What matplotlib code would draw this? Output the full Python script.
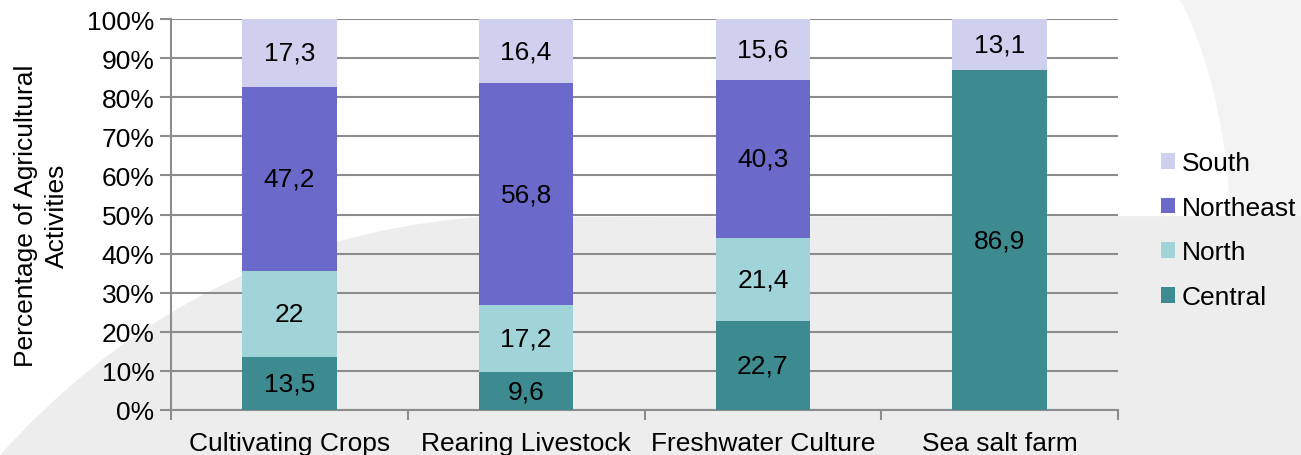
import matplotlib
matplotlib.use("Agg")
import matplotlib.pyplot as plt
from matplotlib.path import Path
from matplotlib.patches import PathPatch
import numpy as np

categories = ["Cultivating Crops", "Rearing Livestock", "Freshwater Culture", "Sea salt farm"]
regions = ["Central", "North", "Northeast", "South"]
central = [13.5, 9.6, 22.7, 86.9]
north = [22.0, 17.2, 21.4, 0.0]
northeast = [47.2, 56.8, 40.3, 0.0]
south = [17.3, 16.4, 15.6, 13.1]
colors = ["#3d8b90", "#a1d4d8", "#6b6acb", "#cfcfee"]
yticks = [0, 10, 20, 30, 40, 50, 60, 70, 80, 90, 100]

plt.rcParams["font.family"] = ["Liberation Sans", "DejaVu Sans"]
FS = 19

W, H = 1301, 456
fig = plt.figure(figsize=(W / 100, H / 100), dpi=100)
fig.patch.set_facecolor("white")


def px(x, y):
    return (x / W, 1 - y / H)


# soft grey swoosh behind the plot
verts = [px(0, 456), px(110, 335), px(260, 235), px(480, 218),
         px(1301, 217), px(1301, 456), px(0, 456)]
codes = [Path.MOVETO, Path.CURVE4, Path.CURVE4, Path.CURVE4,
         Path.LINETO, Path.LINETO, Path.CLOSEPOLY]
fig.patches.append(PathPatch(Path(verts, codes), transform=fig.transFigure,
                             facecolor="#ededed", edgecolor="none", zorder=-10))
verts = [px(1180, 0), px(1215, 70), px(1228, 150), px(1230, 217),
         px(1301, 217), px(1301, 0), px(1180, 0)]
codes = [Path.MOVETO, Path.CURVE4, Path.CURVE4, Path.CURVE4,
         Path.LINETO, Path.LINETO, Path.CLOSEPOLY]
fig.patches.append(PathPatch(Path(verts, codes), transform=fig.transFigure,
                             facecolor="#f3f3f3", edgecolor="none", zorder=-10))

ax = fig.add_axes([171 / W, 1 - 411 / H, (1118 - 171) / W, (411 - 20) / H])
ax.set_facecolor("none")

x = np.arange(len(categories))
bottom = np.zeros(len(categories))
handles = []
for name, vals, col in zip(regions, [central, north, northeast, south], colors):
    vals = np.array(vals)
    bars = ax.bar(x, vals, width=0.40, bottom=bottom, color=col,
                  edgecolor="none", zorder=3, label=name)
    handles.append(bars)
    for xi, v, b in zip(x, vals, bottom):
        if v > 0:
            txt = f"{v:g}".replace(".", ",")
            ax.text(xi, b + v / 2, txt, ha="center", va="center",
                    fontsize=FS, color="black", zorder=4)
    bottom += vals

ax.set_xlim(-0.5, len(categories) - 0.5)
ax.set_ylim(0, 100)
ax.set_yticks(yticks)
ax.set_yticklabels([f"{t}%" for t in yticks], fontsize=FS)
ax.yaxis.grid(True, color="#8c8c8c", linewidth=1.5, zorder=1)
ax.set_axisbelow(True)

ax.set_xticks(x)
ax.set_xticklabels(categories, fontsize=FS)
ax.set_xticks(np.arange(len(categories) + 1) - 0.5, minor=True)
ax.tick_params(axis="x", which="major", length=0, pad=15)
ax.tick_params(axis="x", which="minor", length=7, width=1.5, color="#8c8c8c")
ax.tick_params(axis="y", length=8, width=1.5, color="#8c8c8c", pad=4)

for side in ["top", "right"]:
    ax.spines[side].set_visible(False)
for side in ["left", "bottom"]:
    ax.spines[side].set_color("#8c8c8c")
    ax.spines[side].set_linewidth(1.5)

ax.set_ylabel("Percentage of Agricultural\nActivities", fontsize=FS,
              linespacing=1.35, labelpad=13)

leg = ax.legend(handles[::-1], regions[::-1], loc="center left",
                bbox_to_anchor=(1.045, 0.46), frameon=False, fontsize=FS,
                borderpad=0, borderaxespad=0,
                handlelength=0.55, handleheight=0.55, handletextpad=0.25,
                labelspacing=0.78)

fig.savefig("out.png", dpi=100)
